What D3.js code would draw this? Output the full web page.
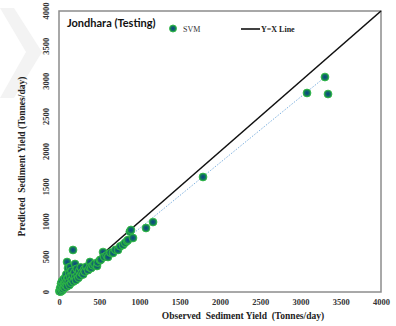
<!DOCTYPE html>
<html>
<head>
<meta charset="utf-8">
<script src="https://cdn.jsdelivr.net/npm/d3@7"></script>
<style>
  html, body { margin: 0; padding: 0; background: #fff; }
  svg { display: block; }
  .tick-lbl { font-family: "Liberation Serif", "Times New Roman", serif; font-weight: bold; font-size: 8.5px; fill: #333; }
  .axis-title { font-family: "Liberation Serif", "Times New Roman", serif; font-weight: bold; font-size: 9.5px; fill: #222; }
</style>
</head>
<body>
<svg id="chart" width="396" height="326"></svg>
<script>
/* ---------- data ---------- */
const xTicks = [0, 500, 1000, 1500, 2000, 2500, 3000, 3500, 4000];
const yTicks = [0, 500, 1000, 1500, 2000, 2500, 3000, 3500, 4000];

// observed vs predicted sediment yield (tonnes/day), SVM testing set
const observed = [5, 10, 15, 20, 25, 30, 35, 40, 45, 50, 55, 60, 65, 70, 75, 80, 85, 90, 95, 100,
  100, 110, 112, 120, 125, 130, 137, 140, 150, 155, 160, 170, 174, 180, 190, 199, 200, 210, 220, 230,
  240, 250, 260, 270, 280, 300, 310, 320, 340, 360, 385, 380, 400, 420, 440, 472, 480, 509, 520, 547,
  560, 590, 609, 640, 671, 700, 733, 760, 795, 820, 845, 857, 880, 894, 919, 1081, 1168, 1789, 3081, 3304, 3342];
const predicted = [10, 30, 60, 5, 120, 50, 150, 20, 90, 40, 180, 70, 110, 60, 200, 130, 90, 250, 160, 80,
  427, 200, 340, 140, 260, 100, 356, 220, 130, 300, 180, 240, 598, 150, 280, 399, 210, 170, 330, 250,
  200, 300, 230, 350, 270, 250, 320, 290, 360, 310, 427, 350, 340, 380, 400, 370, 420, 455, 460, 569,
  500, 520, 498, 560, 555, 600, 598, 650, 669, 700, 726, 740, 860, 883, 769, 911, 996, 1637, 2833, 3060, 2818];

// fitted trend line endpoints (dotted blue)
const trendObs = [30, 3300];
const trendPred = [-2, 3055];
// 1:1 line
const lineObs = [0, 4000];
const linePred = [0, 4000];

/* ---------- layout ---------- */
const svg = d3.select("#chart");
const x = d3.scaleLinear().domain([0, 4000]).range([59, 381]);
const y = d3.scaleLinear().domain([0, 4000]).range([292, 11]);

// faint watermark chevron in the corner
svg.append("path")
  .attr("d", "M0,8 L14,8 L42,52 L14,98 L0,98 L26,52 Z")
  .attr("fill", "#f3f3f3");

const defs = svg.append("defs");
const grad = defs.append("radialGradient").attr("id", "dotfill");
grad.append("stop").attr("offset", "0%").attr("stop-color", "#0b3f86");
grad.append("stop").attr("offset", "55%").attr("stop-color", "#126b6a");
grad.append("stop").attr("offset", "100%").attr("stop-color", "#1f9a3a");

// frame
svg.append("rect")
  .attr("x", x(0)).attr("y", y(4000))
  .attr("width", x(4000) - x(0)).attr("height", y(0) - y(4000))
  .attr("fill", "none").attr("stroke", "#8c8c8c").attr("stroke-width", 1.5);

/* ---------- axes (labels only, no tick marks) ---------- */
const xAxis = d3.axisBottom(x).tickValues(xTicks).tickSize(0).tickPadding(7).tickFormat(d3.format("d"));
const gx = svg.append("g").attr("transform", `translate(0,${y(0)})`).call(xAxis);
gx.select(".domain").remove();
gx.selectAll("text").attr("class", "tick-lbl").attr("font-family", null).attr("font-size", null).attr("fill", null);

const gy = svg.append("g");
gy.selectAll("text").data(yTicks).join("text")
  .attr("class", "tick-lbl")
  .attr("text-anchor", "middle")
  .attr("transform", d => `translate(49,${y(d)}) rotate(-90)`)
  .text(d => d);

svg.append("text").attr("class", "axis-title")
  .attr("x", 243).attr("y", 319).attr("text-anchor", "middle")
  .attr("xml:space", "preserve")
  .text("Observed  Sediment Yield  (Tonnes/day)");

svg.append("text").attr("class", "axis-title")
  .attr("transform", `translate(25,${(y(0) + y(4000)) / 2 + 5}) rotate(-90)`)
  .attr("text-anchor", "middle")
  .attr("xml:space", "preserve")
  .text("Predicted  Sediment Yield (Tonnes/day)");

/* ---------- lines ---------- */
const line = d3.line().x(d => x(d[0])).y(d => y(d[1]));

svg.append("path")
  .datum(trendObs.map((o, i) => [o, trendPred[i]]))
  .attr("d", line)
  .attr("fill", "none").attr("stroke", "#7fb2e0").attr("stroke-width", 1)
  .attr("stroke-dasharray", "1.5,1.5");

svg.append("path")
  .datum(lineObs.map((o, i) => [o, linePred[i]]))
  .attr("d", line)
  .attr("fill", "none").attr("stroke", "#111").attr("stroke-width", 1.6);

/* ---------- points ---------- */
svg.append("g").selectAll("circle")
  .data(observed.map((o, i) => [o, predicted[i]]))
  .join("circle")
  .attr("cx", d => x(d[0])).attr("cy", d => y(d[1]))
  .attr("r", 3.9)
  .attr("fill", "url(#dotfill)")
  .attr("stroke", "#2fb84a").attr("stroke-width", 0.9);

/* ---------- title & legend ---------- */
svg.append("text")
  .attr("x", 67).attr("y", 27)
  .attr("font-family", "Lato, 'Open Sans', sans-serif").attr("font-weight", "bold")
  .attr("font-size", 11).attr("fill", "#111")
  .text("Jondhara (Testing)");

svg.append("circle").attr("cx", 173).attr("cy", 28.5).attr("r", 3.5)
  .attr("fill", "url(#dotfill)").attr("stroke", "#2fb84a").attr("stroke-width", 0.9);
svg.append("text").attr("x", 183).attr("y", 31.5)
  .attr("font-family", "'Liberation Serif', serif").attr("font-size", 8).attr("fill", "#333")
  .text("SVM");

svg.append("line").attr("x1", 241).attr("x2", 260).attr("y1", 29).attr("y2", 29)
  .attr("stroke", "#111").attr("stroke-width", 1.6);
svg.append("text").attr("x", 261).attr("y", 31.5)
  .attr("font-family", "'Liberation Serif', serif").attr("font-weight", "bold")
  .attr("font-size", 8).attr("fill", "#222")
  .text("Y=X Line");
</script>
</body>
</html>
